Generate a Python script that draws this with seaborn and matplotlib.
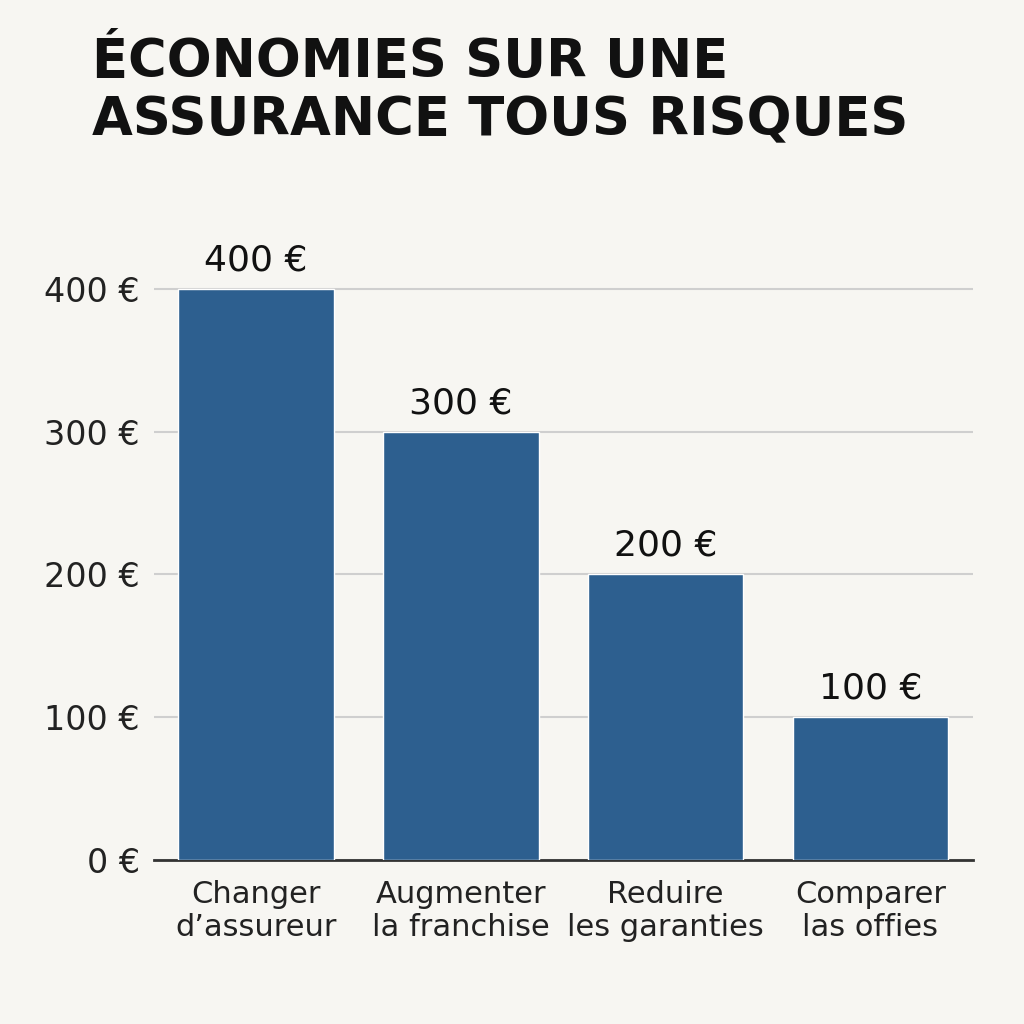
import matplotlib
matplotlib.use("Agg")
import matplotlib.pyplot as plt
import seaborn as sns
import pandas as pd

categories = ["Changer\nd’assureur", "Augmenter\nla franchise", "Reduire\nles garanties", "Comparer\nlas offies"]
values = [400, 300, 200, 100]
value_labels = ["400 €", "300 €", "200 €", "100 €"]
y_ticks = [0, 100, 200, 300, 400]
y_tick_labels = ["0 €", "100 €", "200 €", "300 €", "400 €"]
title = "ÉCONOMIES SUR UNE\nASSURANCE TOUS RISQUES"

bg = "#f7f6f2"
bar_color = "#2d5f8f"
df = pd.DataFrame({"cat": categories, "val": values})

sns.set_theme(style="white", font="DejaVu Sans")
fig, ax = plt.subplots(figsize=(10.24, 10.24), dpi=100)
fig.patch.set_facecolor(bg)
ax.set_facecolor(bg)
fig.subplots_adjust(left=0.15, right=0.95, top=0.76, bottom=0.16)

sns.barplot(data=df, x="cat", y="val", color=bar_color, saturation=1, width=0.76, ax=ax, zorder=3)
ax.set_ylim(0, 430)
ax.set_yticks(y_ticks)
ax.set_yticklabels(y_tick_labels, fontsize=24, color="#222222")
ax.tick_params(axis="x", labelsize=22, colors="#222222", length=0, pad=14)
ax.tick_params(axis="y", length=0, pad=10)
ax.yaxis.grid(True, color="#cfcfcf", linewidth=1.5, zorder=0)
for s in ["top", "right", "left"]:
    ax.spines[s].set_visible(False)
ax.spines["bottom"].set_color("#333333")
ax.spines["bottom"].set_linewidth(2)
ax.set_xlabel("")
ax.set_ylabel("")

for i, (v, lab) in enumerate(zip(values, value_labels)):
    ax.text(i, v + 8, lab, ha="center", va="bottom", fontsize=26, color="#111111", zorder=4)

fig.text(0.09, 0.965, title, ha="left", va="top", fontsize=38, fontweight="bold",
         color="#111111", linespacing=1.15)

fig.savefig("out.png", dpi=100, facecolor=bg)
